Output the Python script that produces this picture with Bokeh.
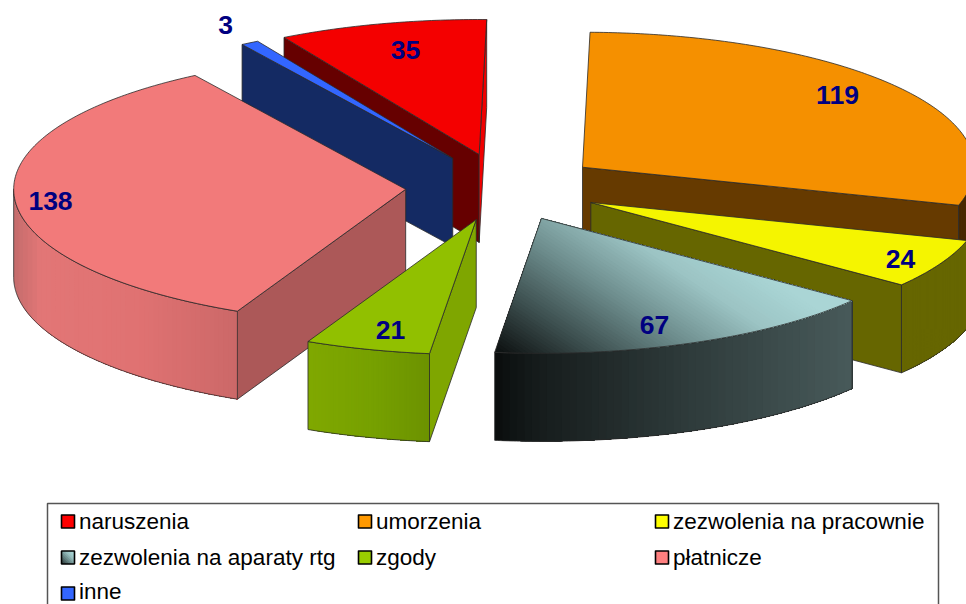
import math
from bokeh.plotting import figure
from bokeh.models import Range1d
from bokeh.core.properties import value
from bokeh.embed import file_html
from bokeh.resources import INLINE

# ---- data -------------------------------------------------------------
categories = ["naruszenia", "umorzenia", "zezwolenia na pracownie",
              "zezwolenia na aparaty rtg", "zgody", "płatnicze", "inne"]
values = [35, 119, 24, 67, 21, 138, 3]
top_colors = ["#f40000", "#f59000", "#f5f500", None, "#91c000", "#f27a7a", "#3366ff"]
swatch_colors = ["#ff0000", "#ff9900", "#ffff00", None, "#99cc00", "#ff8080", "#3366ff"]
start_wall = ["#660000", None, None, None, "#7fa600", "#ac5858", "#142a63"]
end_wall = ["#f00000", "#663a00", "#666600", None, None, None, None]
arc_stops = [
    None,
    [(0.0, "#4a2a00"), (1.0, "#4a2a00")],
    [(0.0, "#666600"), (1.0, "#666600")],
    [(0.0, "#0a0d0d"), (0.12, "#161c1c"), (0.5, "#2c3838"), (1.0, "#485a5a")],
    [(0.0, "#80a800"), (0.55, "#76a000"), (1.0, "#6c9200")],
    [(0.0, "#c46c6c"), (0.12, "#e27676"), (0.55, "#e07272"), (1.0, "#cc6868")],
    None,
]
label_pos_x = [405, 837, 900, 654, 390, 50, 225]
label_pos_y = [49, 94, 258, 324, 329, 200, 24]

# ---- projection of the tilted pie -------------------------------------
CX, CY = 503.0, 186.7
RX, RY = 392.0, 135.0
DEPTH = 88.0
EXPLODE = 0.25
total = sum(values)
first_angle = -values[0] / total * 360.0 + 1.1

OUTLINE = "#2a2a2a"
LW = 0.8
NAVY = "#000080"
FONT = value("Liberation Sans")

p = figure(width=966, height=604, output_backend="svg", toolbar_location=None,
           x_range=Range1d(0, 966), y_range=Range1d(604, 0),
           min_border=0, outline_line_color=None, margin=0)
p.axis.visible = False
p.grid.visible = False


def hex2rgb(c):
    return tuple(int(c[i:i + 2], 16) for i in (1, 3, 5))


def mix(stops, t):
    t = max(0.0, min(1.0, t))
    for (t0, c0), (t1, c1) in zip(stops, stops[1:]):
        if t <= t1:
            f = 0 if t1 == t0 else (t - t0) / (t1 - t0)
            a, b = hex2rgb(c0), hex2rgb(c1)
            return "#%02x%02x%02x" % tuple(round(a[i] + (b[i] - a[i]) * f) for i in range(3))
    return stops[-1][1]


def pt(ax, ay, ang, r=1.0):
    th = math.radians(ang)
    return ax + RX * r * math.sin(th), ay - RY * r * math.cos(th)


def poly(xs, ys, fill, line=OUTLINE, lw=LW):
    p.patch(xs, ys, fill_color=fill, line_color=line, line_width=lw, line_join="round")


def clip(points, tf, level):
    """keep the part of a polygon where tf(x, y) >= level"""
    out = []
    for k, q in enumerate(points):
        r = points[(k + 1) % len(points)]
        tq, tr = tf(*q), tf(*r)
        if tq >= level:
            out.append(q)
        if (tq >= level) != (tr >= level):
            f = (level - tq) / (tr - tq)
            out.append((q[0] + (r[0] - q[0]) * f, q[1] + (r[1] - q[1]) * f))
    return out


def gradient_fill(points, tf, stops, steps):
    """paint a polygon with a linear gradient, each band covering all that follows it"""
    for k in range(steps):
        level = k / steps
        part = points if k == 0 else clip(points, tf, level)
        if len(part) >= 3:
            p.patch([q[0] for q in part], [q[1] for q in part],
                    fill_color=mix(stops, (k + 0.5) / steps), line_color=None)


APARATY_STOPS = [(0.0, "#0e1212"), (0.26, "#3f5252"), (0.52, "#6f8f8f"), (0.78, "#9cc4c4"), (1.0, "#aad6d6")]


def aparaty_t(x, y):
    return (0.0035 * (x - 497) + 0.00523 * (350 - y)) / 1.35


def draw_slice(i, a, b):
    mid = (a + b) / 2
    mth = math.radians(mid)
    ax = CX + EXPLODE * RX * math.sin(mth)
    ay = CY - EXPLODE * RY * math.cos(mth)
    n = max(4, int((b - a) * 1.5))
    ang = [a + (b - a) * k / n for k in range(n + 1)]
    arc = [pt(ax, ay, t) for t in ang]

    # radial walls
    if math.sin(math.radians(a)) < 0 and start_wall[i]:
        x, y = pt(ax, ay, a)
        poly([ax, x, x, ax], [ay, y, y + DEPTH, ay + DEPTH], start_wall[i])
    if math.sin(math.radians(b)) > 0 and end_wall[i]:
        x, y = pt(ax, ay, b)
        poly([ax, x, x, ax], [ay, y, y + DEPTH, ay + DEPTH], end_wall[i])

    # outer, front facing wall
    lo, hi = max(a, 90.0), min(b, 270.0)
    if lo < hi and arc_stops[i]:
        m = max(4, int((hi - lo) * 2.5))
        fang = [lo + (hi - lo) * k / m for k in range(m + 1)]
        fp = [pt(ax, ay, t) for t in fang]
        xmin = min(q[0] for q in fp)
        xmax = max(q[0] for q in fp)
        wall = fp + [(q[0], q[1] + DEPTH) for q in reversed(fp)]
        gradient_fill(wall, lambda x, y: (x - xmin) / (xmax - xmin), arc_stops[i], 48)
        p.patch([q[0] for q in wall], [q[1] for q in wall], fill_alpha=0,
                line_color=OUTLINE, line_width=LW)

    # top face
    top = [(ax, ay)] + arc
    if top_colors[i] is None:
        gradient_fill(top, aparaty_t, APARATY_STOPS, 70)
        p.patch([q[0] for q in top], [q[1] for q in top], fill_alpha=0,
                line_color=OUTLINE, line_width=LW)
    else:
        poly([q[0] for q in top], [q[1] for q in top], top_colors[i])


# slice angle spans, clockwise from the first slice
spans = []
cur = first_angle
for v in values:
    spans.append((cur, cur + v / total * 360.0))
    cur += v / total * 360.0

for i in [0, 1, 2, 3, 6, 5, 4]:   # back to front
    draw_slice(i, *spans[i])

p.text(label_pos_x, label_pos_y, text=[str(v) for v in values], text_color=NAVY,
       text_font=FONT, text_font_style="bold", text_font_size="26.5px",
       text_align="center", text_baseline="middle")

# ---- legend -----------------------------------------------------------
LEFT, TOP, RIGHT, BOTTOM = 47, 503, 938, 612
p.line([LEFT, LEFT, RIGHT, RIGHT], [BOTTOM, TOP, TOP, BOTTOM], line_color="#555555", line_width=1.5)
col_x = [61, 358, 655]
row_y = [521, 557, 593]
text_y = [521, 557, 590.5]
SW = 13
for i, name in enumerate(categories):
    sx, sy = col_x[i % 3], row_y[i // 3]
    square = [(sx, sy - SW / 2), (sx + SW, sy - SW / 2), (sx + SW, sy + SW / 2), (sx, sy + SW / 2)]
    if swatch_colors[i] is None:
        gradient_fill(square, lambda x, y, sx=sx, sy=sy: 0.5 * (x - sx) / SW + 0.5 * (sy + SW / 2 - y) / SW + 0.1,
                      APARATY_STOPS, 10)
        p.patch([q[0] for q in square], [q[1] for q in square], fill_alpha=0,
                line_color="#000000", line_width=1.6)
    else:
        poly([q[0] for q in square], [q[1] for q in square], swatch_colors[i], line="#000000", lw=1.6)
    p.text([sx + 17.5], [text_y[i // 3]], text=[name], text_color="#000000", text_font=FONT,
           text_font_size="22.5px", text_align="left", text_baseline="middle")

open("out.html", "w").write(file_html(p, INLINE))
